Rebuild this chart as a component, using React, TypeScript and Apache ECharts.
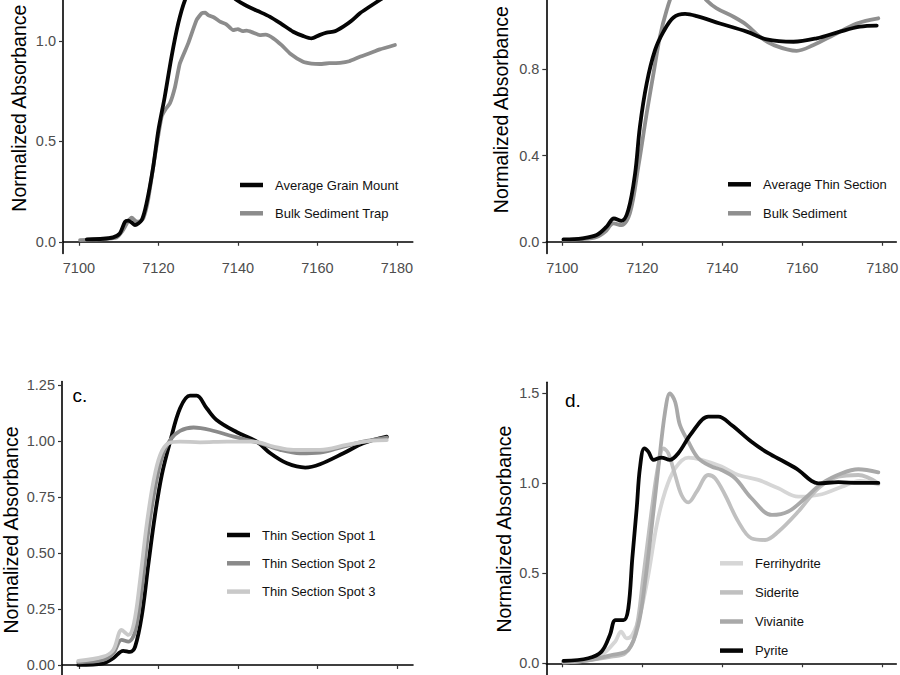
import React, { useEffect, useRef } from "react";
import * as echarts from "echarts";

// ---------- Panel a ----------
const aGrainX = [7102, 7106, 7108.6, 7110.3, 7111.6, 7112.4, 7113.3, 7114.1, 7115.8, 7117.0, 7118.7, 7120.0, 7121.6, 7123.3, 7125.0, 7126.7, 7128.5, 7131, 7134, 7137, 7139.7, 7141.8, 7145, 7148.0, 7151, 7153.9, 7156.5, 7158.5, 7160.5, 7162.3, 7164.5, 7166.5, 7168.5, 7170.7, 7173, 7175.7, 7178, 7179.5];
const aGrainY = [0.012, 0.015, 0.022, 0.042, 0.100, 0.105, 0.095, 0.083, 0.108, 0.19, 0.374, 0.557, 0.723, 0.922, 1.089, 1.205, 1.27, 1.32, 1.30, 1.25, 1.205, 1.18, 1.15, 1.122, 1.085, 1.047, 1.025, 1.014, 1.03, 1.042, 1.05, 1.072, 1.10, 1.139, 1.17, 1.205, 1.235, 1.255];
const aBulkX = [7100.3, 7105, 7109.5, 7111.1, 7112.3, 7113.3, 7114.5, 7115.4, 7116.2, 7117.4, 7119.1, 7120.8, 7121.8, 7122.9, 7124.2, 7125.4, 7127.5, 7129.6, 7130.9, 7131.8, 7132.5, 7134, 7135.5, 7137, 7138.8, 7140, 7141.2, 7142.2, 7143.5, 7145.5, 7147, 7148.9, 7151, 7153.1, 7156.4, 7158.5, 7160.6, 7163, 7165.7, 7168, 7170.7, 7173, 7175.7, 7179.5];
const aBulkY = [0.008, 0.012, 0.022, 0.058, 0.1, 0.12, 0.10, 0.102, 0.117, 0.208, 0.424, 0.623, 0.66, 0.69, 0.773, 0.889, 0.989, 1.105, 1.139, 1.142, 1.13, 1.118, 1.097, 1.085, 1.055, 1.06, 1.05, 1.052, 1.045, 1.03, 1.032, 1.014, 0.98, 0.939, 0.897, 0.888, 0.886, 0.89, 0.892, 0.9, 0.922, 0.938, 0.959, 0.981];

// ---------- Panel b ----------
const bThinX = [7100.3, 7105, 7108.6, 7111.1, 7112.9, 7114.8, 7116.5, 7118.2, 7119.4, 7121.1, 7123.2, 7125.3, 7127.8, 7130.7, 7133.6, 7139.4, 7146.1, 7151.1, 7157.8, 7163.6, 7169.4, 7174.4, 7178.6];
const bThinY = [0.011, 0.016, 0.031, 0.07, 0.108, 0.097, 0.147, 0.317, 0.534, 0.735, 0.89, 0.975, 1.041, 1.057, 1.047, 1.013, 0.975, 0.939, 0.928, 0.944, 0.975, 0.998, 1.003];
const bBulkX = [7100.3, 7105, 7108.6, 7110.7, 7112.8, 7114.8, 7116.9, 7119.0, 7121.1, 7122.8, 7124.4, 7126.1, 7128, 7130.3, 7133, 7136.1, 7138.6, 7142.8, 7146.1, 7149.4, 7152.8, 7158.6, 7162.8, 7167.8, 7173.6, 7179.0];
const bBulkY = [0.008, 0.012, 0.022, 0.046, 0.085, 0.077, 0.132, 0.348, 0.596, 0.781, 0.951, 1.075, 1.17, 1.22, 1.19, 1.12, 1.083, 1.044, 1.006, 0.951, 0.913, 0.886, 0.913, 0.959, 1.013, 1.037];

// ---------- Panel c ----------
const cSpot1X = [7099.8, 7106.1, 7108.6, 7111.1, 7112.8, 7114.1, 7115.8, 7117.4, 7119.1, 7120.8, 7122.9, 7125.4, 7127.9, 7129.6, 7132.1, 7134.6, 7139.7, 7144.7, 7148.1, 7152.3, 7156.9, 7160.6, 7166.5, 7171.5, 7177.4];
const cSpot1Y = [0.0, 0.007, 0.03, 0.063, 0.058, 0.082, 0.223, 0.446, 0.67, 0.848, 0.997, 1.146, 1.202, 1.202, 1.146, 1.094, 1.039, 0.997, 0.945, 0.9, 0.881, 0.896, 0.945, 0.99, 1.019];
const cSpot2X = [7099.8, 7106.1, 7108.6, 7110.7, 7112.4, 7114.1, 7115.8, 7117.4, 7119.1, 7120.8, 7122.9, 7125.4, 7128.8, 7133.0, 7138.9, 7145.5, 7150.6, 7155.6, 7160.6, 7166.5, 7172.4, 7177.4];
const cSpot2Y = [0.012, 0.022, 0.052, 0.112, 0.104, 0.149, 0.342, 0.595, 0.789, 0.923, 1.004, 1.045, 1.06, 1.049, 1.019, 0.99, 0.96, 0.945, 0.948, 0.975, 1.0, 1.015];
const cSpot3X = [7099.8, 7106.1, 7108.6, 7110.7, 7112.4, 7113.8, 7115.3, 7117.0, 7118.7, 7120.4, 7122.5, 7125.4, 7130.4, 7137.2, 7143.9, 7148.9, 7153.9, 7160.6, 7167.3, 7173.2, 7177.4];
const cSpot3Y = [0.018, 0.037, 0.067, 0.156, 0.134, 0.186, 0.372, 0.625, 0.818, 0.9375, 0.99, 0.997, 0.994, 0.997, 0.997, 0.975, 0.96, 0.96, 0.982, 1.0, 1.004];

// ---------- Panel d ----------
const dFerriX = [7100.3, 7106, 7109.8, 7113.2, 7114.7, 7116.1, 7117.5, 7119.4, 7121.5, 7123.6, 7125.7, 7128.2, 7131.5, 7134.8, 7139.8, 7144.0, 7149.0, 7154.0, 7159.0, 7164.9, 7169.9, 7174.4, 7179.0];
const dFerriY = [0.009, 0.02, 0.046, 0.12, 0.176, 0.139, 0.157, 0.268, 0.49, 0.768, 0.954, 1.083, 1.143, 1.13, 1.093, 1.046, 1.019, 0.972, 0.926, 0.939, 0.981, 1.013, 0.994];
const dSideX = [7100.3, 7106, 7112.3, 7115.7, 7118.2, 7120.3, 7122.4, 7124.0, 7125.3, 7126.5, 7128.2, 7129.8, 7131.5, 7133.6, 7136.5, 7138.2, 7140.7, 7144.0, 7147.3, 7150.7, 7154.0, 7159.0, 7164.0, 7169.0, 7174.0, 7179.0];
const dSideY = [0.005, 0.015, 0.037, 0.055, 0.157, 0.49, 0.861, 1.102, 1.194, 1.167, 1.046, 0.935, 0.894, 0.954, 1.046, 1.028, 0.935, 0.787, 0.694, 0.685, 0.731, 0.843, 0.972, 1.037, 1.046, 1.0];
const dVivX = [7100.3, 7106, 7112.3, 7116.5, 7119.0, 7120.7, 7122.4, 7124.0, 7125.7, 7126.9, 7128.2, 7129.4, 7131.5, 7134.0, 7137.3, 7139.8, 7143.2, 7147.3, 7152.4, 7156.5, 7160.7, 7164.9, 7169.9, 7174.0, 7179.0];
const dVivY = [0.005, 0.015, 0.046, 0.074, 0.213, 0.453, 0.768, 1.083, 1.398, 1.5, 1.453, 1.324, 1.231, 1.139, 1.093, 1.074, 1.028, 0.917, 0.824, 0.843, 0.917, 1.0, 1.056, 1.078, 1.061];
const dPyrX = [7100.3, 7106.5, 7109.8, 7111.9, 7113.3, 7115.3, 7116.5, 7117.5, 7118.6, 7119.4, 7120.5, 7121.5, 7122.8, 7124.8, 7126.9, 7129.0, 7132.3, 7136.5, 7139.0, 7142.3, 7147.3, 7151.5, 7155.7, 7159.0, 7162.3, 7164.0, 7169.0, 7174.0, 7179.0];
const dPyrY = [0.013, 0.028, 0.065, 0.157, 0.24, 0.24, 0.305, 0.583, 0.861, 1.083, 1.194, 1.176, 1.13, 1.143, 1.13, 1.167, 1.278, 1.37, 1.37, 1.324, 1.231, 1.167, 1.117, 1.074, 1.013, 1.0, 1.006, 1.002, 1.002];

const xTicks = [7100, 7120, 7140, 7160, 7180];
const aYTicks = [0, 0.5, 1.0];
const bYTicks = [0, 0.4, 0.8];
const cYTicks = [0, 0.25, 0.5, 0.75, 1.0, 1.25];
const dYTicks = [0, 0.5, 1.0, 1.5];

const zip = (xs: number[], ys: number[]) => xs.map((x, i) => [x, ys[i]]);

const FONT = "Liberation Sans, Arial, Helvetica, sans-serif";
const YNAME = "Normalized Absorbance";

export default function App() {
  const ref = useRef<HTMLDivElement>(null);

  useEffect(() => {
    if (!ref.current) return;
    const chart = echarts.init(ref.current, undefined, { renderer: "svg" });

    const grids = [
      { left: 63, top: -37.1, width: 349.8, height: 290.5 },
      { left: 546.3, top: -34.1, width: 350, height: 287.5 },
      { left: 62, top: 381.6, width: 351, height: 296.8 },
      { left: 546.3, top: 382.3, width: 350, height: 293.6 },
    ];

    const xRanges = [
      [7096, 7184],
      [7096, 7183.5],
      [7095.7, 7184],
      [7096, 7183.5],
    ];
    const yRanges = [
      [-0.058, 1.39],
      [-0.054, 1.28],
      [-0.06, 1.265],
      [-0.07, 1.561],
    ];
    const yTicks = [aYTicks, bYTicks, cYTicks, dYTicks];
    const yFmt = [
      (v: number) => v.toFixed(1),
      (v: number) => v.toFixed(1),
      (v: number) => v.toFixed(2),
      (v: number) => v.toFixed(1),
    ];
    const nameGaps = [34, 35, 41, 32];

    const xAxis = grids.map((_, i) => ({
      type: "value",
      gridIndex: i,
      min: xRanges[i][0],
      max: xRanges[i][1],
      splitLine: { show: false },
      axisLine: { show: true, lineStyle: { color: "#000", width: 1.6 } },
      axisTick: { show: true, length: 4, customValues: xTicks, lineStyle: { color: "#333", width: 1.2 } },
      axisLabel: {
        show: i < 2,
        customValues: xTicks,
        margin: 7,
        color: "#4d4d4d",
        fontSize: 14.5,
        fontFamily: FONT,
        formatter: (v: number) => String(v),
      },
    }));

    const yAxis = grids.map((_, i) => ({
      type: "value",
      gridIndex: i,
      min: yRanges[i][0],
      max: yRanges[i][1],
      splitLine: { show: false },
      axisLine: { show: true, lineStyle: { color: "#000", width: 1.6 } },
      axisTick: { show: true, length: 4, customValues: yTicks[i], lineStyle: { color: "#333", width: 1.2 } },
      axisLabel: {
        customValues: yTicks[i],
        margin: 7,
        color: "#4d4d4d",
        fontSize: 14.5,
        fontFamily: FONT,
        formatter: yFmt[i],
      },
      name: YNAME,
      nameLocation: "middle",
      nameGap: nameGaps[i],
      nameTextStyle: { fontSize: 19.5, color: "#000", fontFamily: FONT },
    }));

    const mk = (name: string, idx: number, xs: number[], ys: number[], color: string, smooth: number | boolean) => ({
      type: "line",
      name,
      xAxisIndex: idx,
      yAxisIndex: idx,
      data: zip(xs, ys),
      showSymbol: false,
      symbol: "none",
      smooth,
      lineStyle: { color, width: 3.8, cap: "round", join: "round" },
      itemStyle: { color },
      clip: true,
      z: 2,
    });

    const series = [
      mk("Bulk Sediment Trap", 0, aBulkX, aBulkY, "#8c8c8c", 0.15),
      mk("Average Grain Mount", 0, aGrainX, aGrainY, "#050505", 0.25),
      mk("Bulk Sediment", 1, bBulkX, bBulkY, "#8f8f8f", 0.35),
      mk("Average Thin Section", 1, bThinX, bThinY, "#050505", 0.35),
      mk("Thin Section Spot 1", 2, cSpot1X, cSpot1Y, "#050505", 0.35),
      mk("Thin Section Spot 2", 2, cSpot2X, cSpot2Y, "#8a8a8a", 0.35),
      mk("Thin Section Spot 3", 2, cSpot3X, cSpot3Y, "#c9c9c9", 0.35),
      mk("Ferrihydrite", 3, dFerriX, dFerriY, "#d6d6d6", 0.35),
      mk("Siderite", 3, dSideX, dSideY, "#c0c0c0", 0.35),
      mk("Vivianite", 3, dVivX, dVivY, "#a9a9a9", 0.35),
      mk("Pyrite", 3, dPyrX, dPyrY, "#050505", 0.35),
    ];

    const legendBase = {
      orient: "vertical",
      icon: "rect",
      itemWidth: 23,
      itemHeight: 4.5,
      textStyle: { fontSize: 13, color: "#111", fontFamily: FONT, lineHeight: 16, padding: [0, 0, 0, 7] },
      selectedMode: false,
      padding: 0,
    };

    const legend = [
      { ...legendBase, left: 240, top: 177, itemGap: 12.3, data: ["Average Grain Mount", "Bulk Sediment Trap"] },
      { ...legendBase, left: 728, top: 176.3, itemGap: 13, data: ["Average Thin Section", "Bulk Sediment"] },
      { ...legendBase, left: 227, top: 527, itemGap: 12.3, data: ["Thin Section Spot 1", "Thin Section Spot 2", "Thin Section Spot 3"] },
      { ...legendBase, left: 720, top: 555.3, itemGap: 13.1, data: ["Ferrihydrite", "Siderite", "Vivianite", "Pyrite"] },
    ];

    chart.setOption({
      animation: false,
      backgroundColor: "#fff",
      grid: grids.map((g) => ({ ...g, containLabel: false, outerBoundsMode: "none" })),
      xAxis,
      yAxis,
      series,
      legend,
      graphic: [
        { type: "text", left: 72.5, top: 386, style: { text: "c.", fontSize: 19, fill: "#000", fontFamily: FONT } },
        { type: "text", left: 565, top: 391, style: { text: "d.", fontSize: 19, fill: "#000", fontFamily: FONT } },
      ],
    });

    return () => chart.dispose();
  }, []);

  return (
    <div
      ref={ref}
      style={{ position: "absolute", left: 0, top: 0, width: 900, height: 675, background: "#fff" }}
    />
  );
}
